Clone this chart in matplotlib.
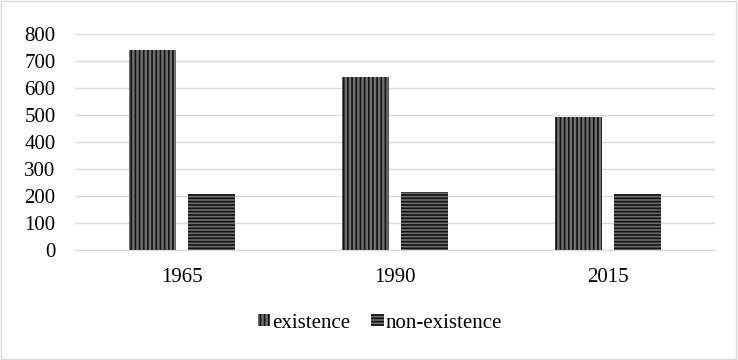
import numpy as np
import matplotlib
matplotlib.use('Agg')
import matplotlib.pyplot as plt
from matplotlib.patches import Rectangle

years = ["1965", "1990", "2015"]
existence = [740, 641, 491]
non_existence = [208, 214, 208]

plt.rcParams['font.family'] = ['Liberation Serif', 'DejaVu Serif']
plt.rcParams['hatch.linewidth'] = 1.2

fig = plt.figure(figsize=(7.38, 3.6), dpi=100)
ax = fig.add_axes([75 / 738, 1 - 250 / 360, 640 / 738, 216 / 360])

x = np.arange(len(years))
w = 0.22
gap = 0.056
ax.bar(x - (w + gap) / 2, existence, width=w, color='#6e6e6e',
       edgecolor='#111111', hatch='||||', linewidth=0, label='existence')
ax.bar(x + (w + gap) / 2, non_existence, width=w, color='#6e6e6e',
       edgecolor='#111111', hatch='-----', linewidth=0, label='non-existence')

ax.set_xlim(-0.5, 2.5)
ax.set_ylim(0, 800)
ax.set_yticks(range(0, 801, 100))
ax.set_xticks(x)
ax.set_xticklabels(years)
ax.yaxis.grid(True, color='#d9d9d9', linewidth=1)
ax.set_axisbelow(True)
for s in ['top', 'right', 'left']:
    ax.spines[s].set_visible(False)
ax.spines['bottom'].set_color('#d9d9d9')
ax.tick_params(axis='both', length=0, labelsize=15, colors='black')
ax.tick_params(axis='y', pad=14)
ax.tick_params(axis='x', pad=13)

leg = fig.legend(loc='center', bbox_to_anchor=(380 / 738, 1 - 323 / 360), ncol=2,
                 frameon=False, fontsize=15, handlelength=0.6, handleheight=0.5,
                 handletextpad=0.1, columnspacing=1.0)

fig.patches.append(Rectangle((0.002, 0.003), 0.995, 0.993, transform=fig.transFigure,
                             fill=False, edgecolor='#d9d9d9', linewidth=1))

fig.savefig('out.png', dpi=100)
